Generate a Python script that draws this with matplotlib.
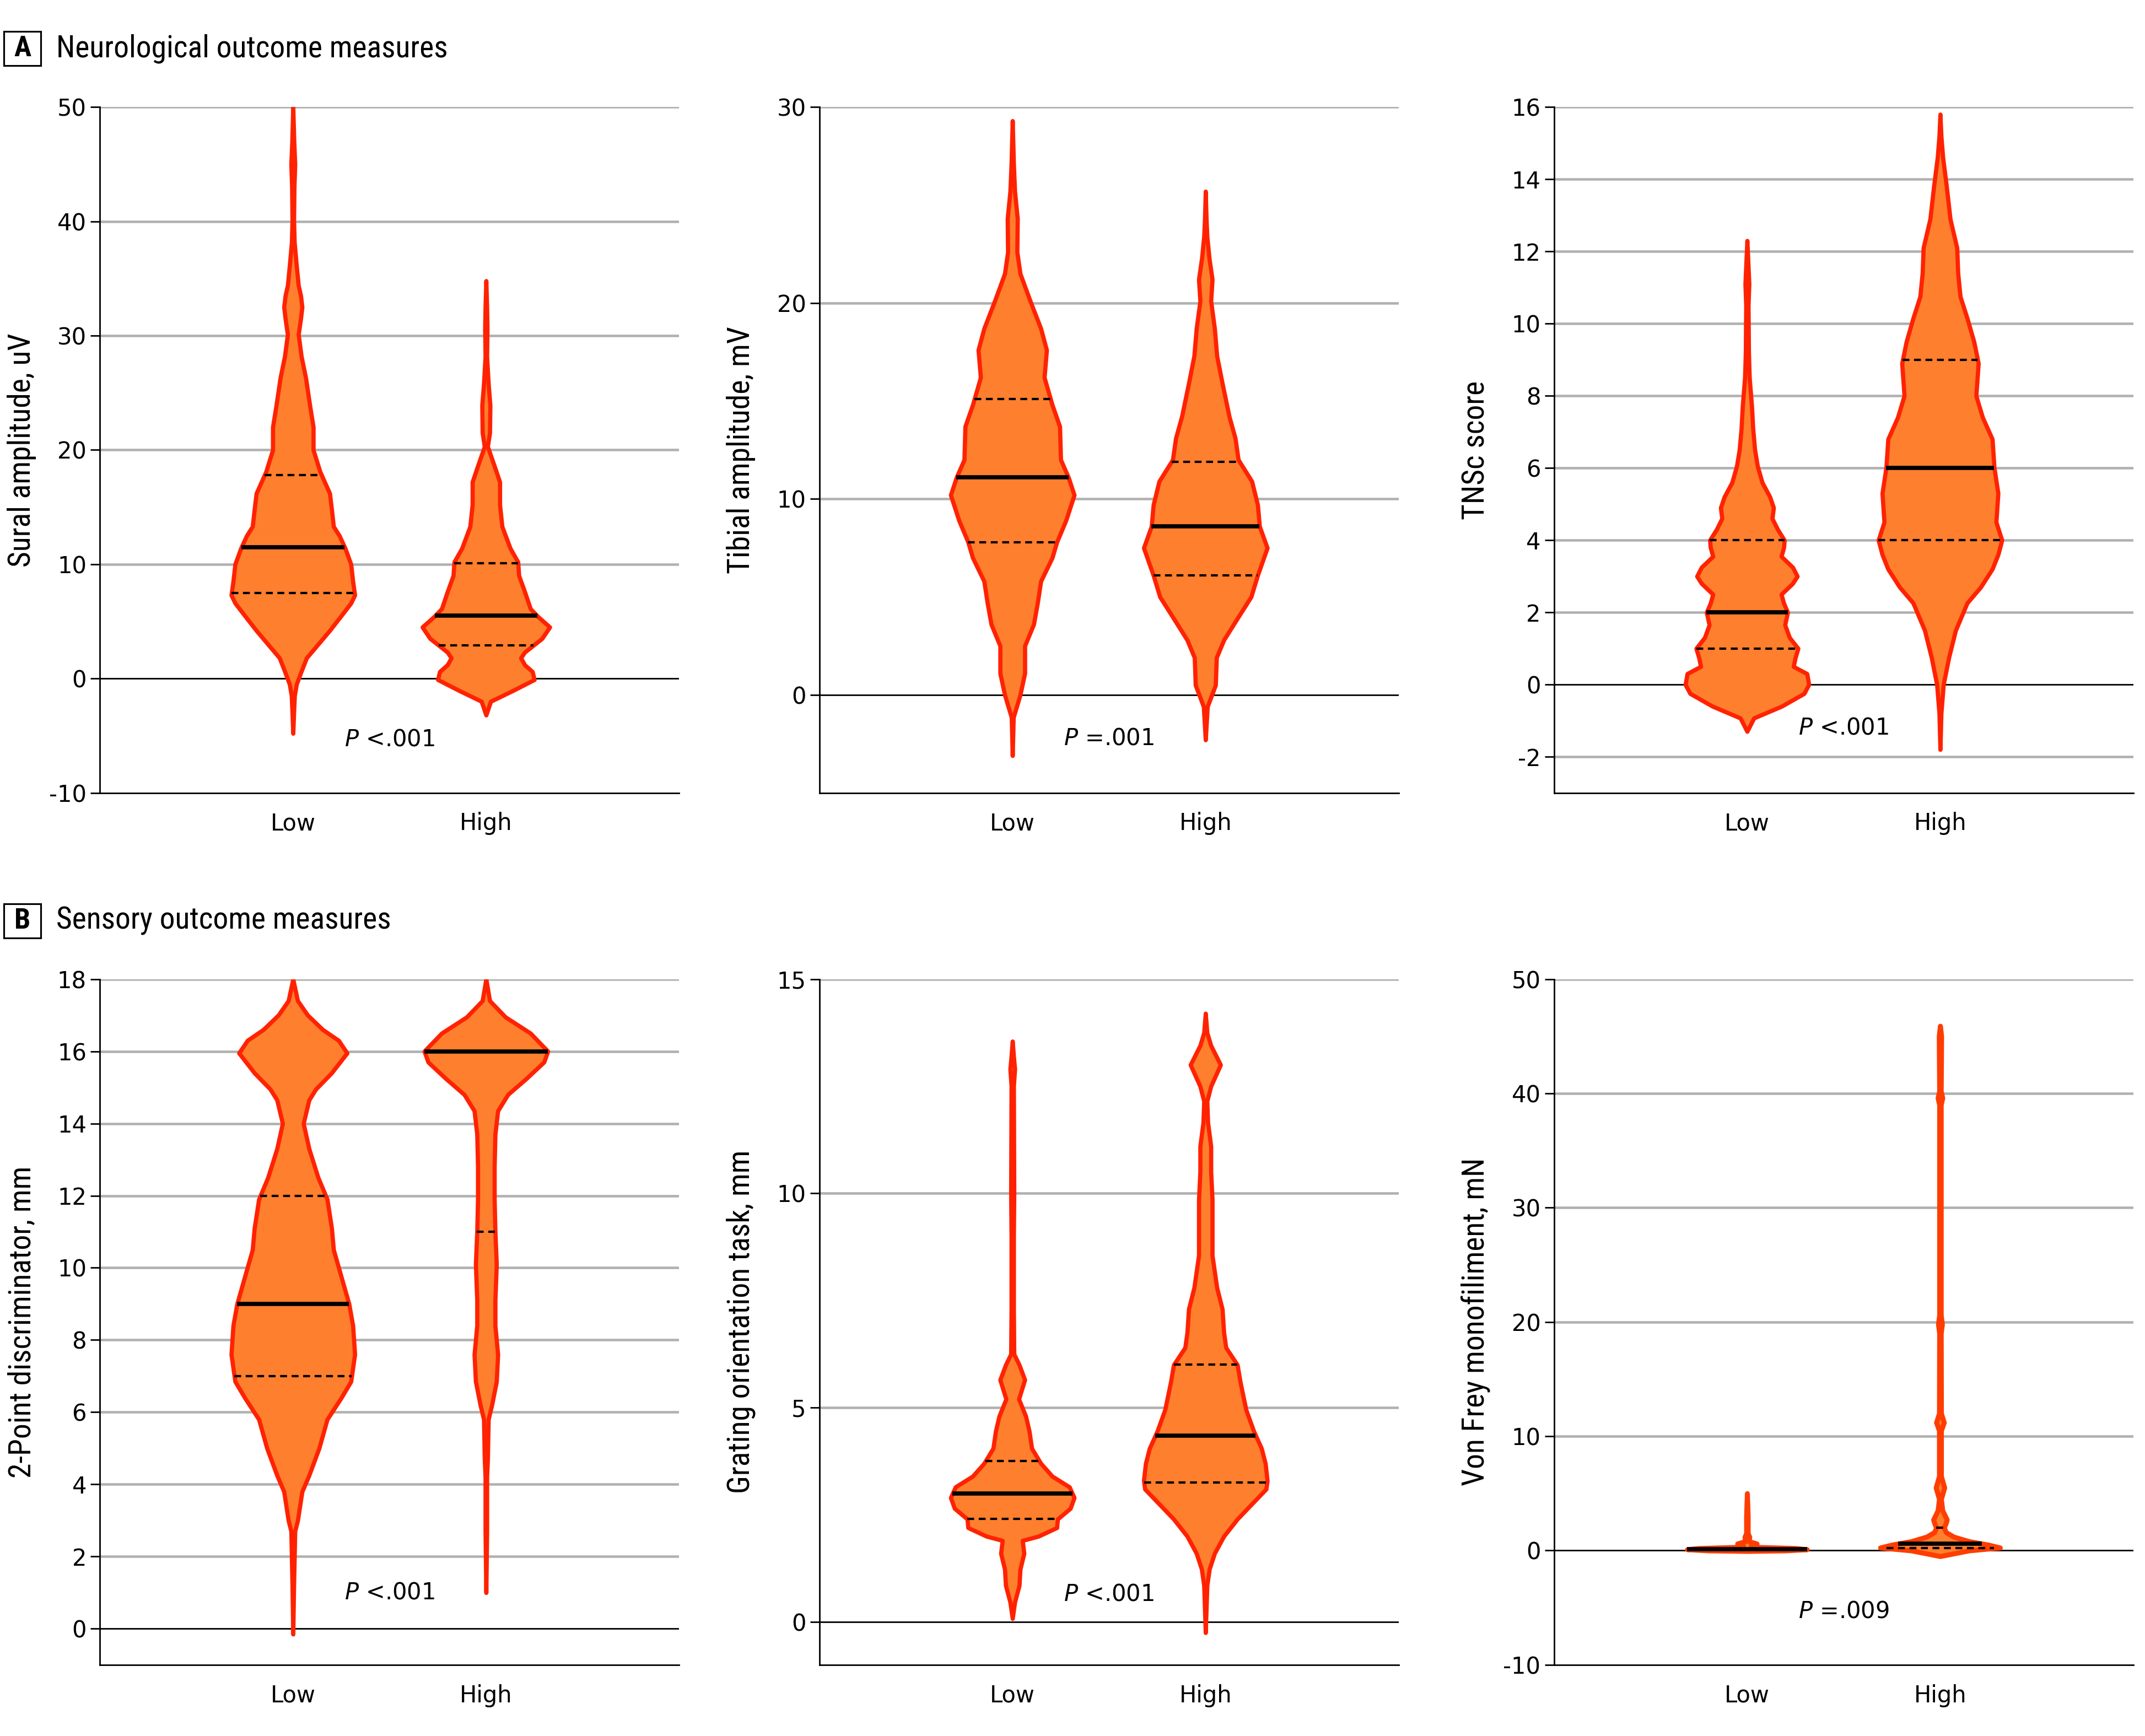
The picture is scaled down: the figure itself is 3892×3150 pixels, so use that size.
import numpy as np
import matplotlib.pyplot as plt
from matplotlib.patches import Rectangle

plt.rcParams['font.family'] = ['DejaVu Sans']
plt.rcParams['axes.unicode_minus'] = False
narrow = ['Roboto Condensed', 'DejaVu Sans']

groups = ["Low", "High"]

# ---- violin outlines: y value -> half width (x units) ----
sural_low_y = [-4.8, -3, -1.5, -0.5, 0.5, 1.8, 3.0, 4.2, 5.5, 6.6, 7.3, 8.5, 10, 11.4, 12.5, 13.3, 14.8,
               16.2, 18.1, 20, 22, 23.9, 26.3, 28.2, 30.1, 31.5, 32.5, 33.5, 34.4, 36.3, 38.2, 40.1, 43, 45, 47, 50]
sural_low_w = [0, 0.004, 0.008, 0.018, 0.04, 0.07, 0.13, 0.19, 0.25, 0.30, 0.32, 0.31, 0.30, 0.27, 0.24, 0.21, 0.20,
               0.19, 0.14, 0.105, 0.105, 0.087, 0.066, 0.043, 0.028, 0.04, 0.047, 0.04, 0.028, 0.017, 0.007, 0.004, 0.006, 0.01, 0.005, 0]
sural_high_y = [-3.2, -2.0, -1.05, -0.1, 0.6, 1.2, 1.8, 2.3, 3.5, 4.5, 5.4, 6.1, 7.6, 9.0, 10.2, 11.4, 13.3,
                15.2, 17.2, 18.6, 20.3, 21.5, 23.9, 25.8, 28.2, 30.6, 32.5, 34.8]
sural_high_w = [0, 0.024, 0.14, 0.25, 0.24, 0.2, 0.18, 0.2, 0.29, 0.33, 0.27, 0.23, 0.2, 0.17, 0.165, 0.125, 0.083,
                0.071, 0.071, 0.043, 0.008, 0.019, 0.021, 0.012, 0.004, 0.006, 0.004, 0]

tibial_low_y = [-3.1, -1.15, 0, 1.1, 2.5, 3.6, 4.7, 5.8, 7.0, 7.8, 8.9, 10.2, 11.1, 12.0, 13.7, 14.8, 16.2,
                17.6, 18.7, 20.1, 21.5, 22.6, 24.3, 25.7, 27.1, 29.3]
tibial_low_w = [0, 0.005, 0.04, 0.064, 0.064, 0.11, 0.13, 0.147, 0.206, 0.23, 0.277, 0.32, 0.29, 0.25, 0.245, 0.206, 0.165,
                0.177, 0.147, 0.092, 0.04, 0.024, 0.026, 0.012, 0.006, 0]
tibial_high_y = [-2.3, -0.6, 0.5, 1.9, 2.8, 3.9, 5.0, 6.1, 7.5, 8.6, 9.7, 10.9, 12.0, 13.1, 14.2, 15.9,
                 17.3, 18.7, 20.1, 21.2, 22.3, 23.4, 24.3, 25.7]
tibial_high_w = [0, 0.01, 0.052, 0.057, 0.095, 0.165, 0.236, 0.27, 0.32, 0.28, 0.27, 0.24, 0.17, 0.154, 0.123, 0.087,
                 0.059, 0.047, 0.028, 0.035, 0.019, 0.008, 0.004, 0]

tnsc_low_y = [-1.3, -0.93, -0.6, -0.25, 0, 0.3, 0.5, 0.75, 1.0, 1.3, 1.65, 2.0, 2.25, 2.5, 2.8, 3.0, 3.25,
              3.55, 3.8, 4.0, 4.3, 4.6, 4.9, 5.2, 5.6, 6.05, 6.5, 7.1, 7.7, 8.5, 9.2, 10.5, 11.1, 11.7, 12.3]
tnsc_low_w = [0, 0.035, 0.18, 0.295, 0.32, 0.31, 0.24, 0.25, 0.264, 0.22, 0.196, 0.21, 0.19, 0.177, 0.236, 0.26, 0.236,
              0.177, 0.19, 0.193, 0.158, 0.13, 0.137, 0.118, 0.078, 0.054, 0.04, 0.03, 0.024, 0.012, 0.008, 0.006, 0.01, 0.005, 0]
tnsc_high_y = [-1.8, -0.8, 0, 0.75, 1.5, 2.26, 2.7, 3.2, 3.6, 4.0, 4.5, 5.3, 6.0, 6.8, 7.4, 8.0, 8.9,
               9.5, 10.15, 10.75, 11.4, 12.1, 12.9, 13.8, 14.6, 15.2, 15.8]
tnsc_high_w = [0, 0.005, 0.017, 0.045, 0.08, 0.14, 0.21, 0.27, 0.3, 0.32, 0.29, 0.30, 0.28, 0.27, 0.22, 0.186, 0.198,
               0.175, 0.14, 0.104, 0.092, 0.087, 0.052, 0.033, 0.014, 0.005, 0]

tpd_low_y = [-0.15, 1.2, 2.7, 3.0, 3.8, 4.25, 5.0, 5.8, 6.4, 6.85, 7.6, 8.4, 9.0, 9.75, 10.5, 11.1, 11.9,
             12.5, 13.3, 14.0, 14.65, 14.95, 15.4, 15.95, 16.3, 16.6, 17.0, 17.4, 18.0]
tpd_low_w = [0, 0.004, 0.01, 0.024, 0.047, 0.083, 0.135, 0.177, 0.25, 0.30, 0.32, 0.31, 0.29, 0.25, 0.21, 0.2, 0.177,
             0.13, 0.083, 0.054, 0.083, 0.118, 0.2, 0.28, 0.236, 0.154, 0.076, 0.024, 0]
tpd_high_y = [1.0, 2.7, 4.2, 4.7, 5.8, 6.2, 6.85, 7.6, 8.4, 9.1, 10.1, 11.0, 11.9, 12.8, 13.7, 14.35,
              14.8, 15.25, 15.7, 16.0, 16.5, 16.95, 17.4, 18.0]
tpd_high_w = [0, 0.004, 0.004, 0.008, 0.012, 0.03, 0.054, 0.061, 0.047, 0.047, 0.054, 0.047, 0.043, 0.043, 0.047, 0.061,
              0.113, 0.21, 0.30, 0.32, 0.23, 0.1, 0.019, 0]

got_low_y = [0.08, 0.46, 0.85, 1.23, 1.6, 1.9, 2.0, 2.2, 2.4, 2.65, 2.9, 3.15, 3.4, 3.7, 4.05, 4.45, 4.8,
             5.2, 5.65, 6.0, 6.25, 7.3, 9.0, 10.0, 12.5, 12.9, 13.2, 13.55]
got_low_w = [0, 0.012, 0.035, 0.04, 0.06, 0.052, 0.135, 0.23, 0.234, 0.30, 0.32, 0.295, 0.206, 0.147, 0.1, 0.087, 0.069,
             0.033, 0.064, 0.035, 0.008, 0.006, 0.006, 0.008, 0.006, 0.012, 0.006, 0]
got_high_y = [-0.25, 0.85, 1.23, 1.6, 2.0, 2.4, 2.8, 3.1, 3.3, 3.7, 4.05, 4.45, 4.95, 5.6, 6.0, 6.4, 6.75,
              7.3, 7.8, 8.55, 9.2, 9.85, 10.5, 11.1, 11.65, 12.15, 12.5, 13.0, 13.45, 13.75, 14.2]
got_high_w = [0, 0.008, 0.02, 0.047, 0.095, 0.165, 0.25, 0.314, 0.32, 0.31, 0.29, 0.25, 0.21, 0.18, 0.165, 0.106, 0.095,
              0.087, 0.059, 0.035, 0.035, 0.035, 0.028, 0.028, 0.012, 0.008, 0.028, 0.078, 0.028, 0.008, 0]

vf_low_y = [-0.05, 0.0, 0.1, 0.2, 0.3, 0.4, 0.6, 0.8, 1.2, 1.5, 3.0, 5.0]
vf_low_w = [0, 0.2, 0.31, 0.25, 0.05, 0.02, 0.05, 0.01, 0.012, 0.004, 0.004, 0]
vf_high_y = [-0.5, 0.0, 0.25, 0.5, 0.8, 1.2, 1.6, 2.0, 2.4, 2.7, 3.5, 4.5, 5.5, 6.5, 10.5, 11.2, 12.0,
             19.0, 19.8, 20.6, 39.0, 39.6, 40.2, 45.0, 45.9]
vf_high_w = [0, 0.15, 0.31, 0.25, 0.15, 0.07, 0.03, 0.02, 0.03, 0.035, 0.012, 0.005, 0.022, 0.005, 0.005, 0.02, 0.005,
             0.004, 0.01, 0.004, 0.004, 0.012, 0.004, 0.006, 0]

# median, lower quartile, upper quartile for Low and High
sural_stats = [(11.5, 7.5, 17.8), (5.5, 2.9, 10.1)]
tibial_stats = [(11.1, 7.8, 15.1), (8.6, 6.1, 11.9)]
tnsc_stats = [(2.0, 1.0, 4.0), (6.0, 4.0, 9.0)]
tpd_stats = [(9.0, 7.0, 12.0), (16.0, 11.0, 16.0)]
got_stats = [(3.0, 2.4, 3.75), (4.35, 3.25, 6.0)]
vf_stats = [(0.1, 0.05, 0.15), (0.6, 0.2, 2.0)]

p_values = ["<.001", "=.001", "<.001", "<.001", "<.001", "=.009"]
p_y = [-5.3, -2.2, -1.2, 1.0, 0.65, -5.3]

panels = [
    dict(label="Sural amplitude, uV", ylim=(-10, 50), ticks=np.arange(-10, 51, 10),
         prof=[(sural_low_y, sural_low_w), (sural_high_y, sural_high_w)], stats=sural_stats),
    dict(label="Tibial amplitude, mV", ylim=(-5, 30), ticks=np.arange(0, 31, 10),
         prof=[(tibial_low_y, tibial_low_w), (tibial_high_y, tibial_high_w)], stats=tibial_stats),
    dict(label="TNSc score", ylim=(-3, 16), ticks=np.arange(-2, 17, 2),
         prof=[(tnsc_low_y, tnsc_low_w), (tnsc_high_y, tnsc_high_w)], stats=tnsc_stats),
    dict(label="2-Point discriminator, mm", ylim=(-1, 18), ticks=np.arange(0, 19, 2),
         prof=[(tpd_low_y, tpd_low_w), (tpd_high_y, tpd_high_w)], stats=tpd_stats),
    dict(label="Grating orientation task, mm", ylim=(-1, 15), ticks=np.arange(0, 16, 5),
         prof=[(got_low_y, got_low_w), (got_high_y, got_high_w)], stats=got_stats),
    dict(label="Von Frey monofiliment, mN", ylim=(-10, 50), ticks=np.arange(-10, 51, 10),
         prof=[(vf_low_y, vf_low_w), (vf_high_y, vf_high_w)], stats=vf_stats),
]

fill_col = '#FE7F2E'
edge_col = '#FF2200'

fig = plt.figure(figsize=(15.568, 12.6), dpi=250)
lefts = [0.0466, 0.382, 0.7245]
bottoms = [0.5433, 0.041]
w_ax, h_ax = 0.2700, 0.3950

for i, p in enumerate(panels):
    ax = fig.add_axes([lefts[i % 3], bottoms[i // 3], w_ax, h_ax])
    ax.set_xlim(0, 3)
    ax.set_ylim(*p['ylim'])
    ax.set_yticks(p['ticks'])
    ax.set_xticks([1, 2])
    ax.set_xticklabels(groups, fontsize=12)
    ax.tick_params(axis='x', length=0, pad=10)
    ax.tick_params(axis='y', labelsize=12, length=5, width=0.8, pad=2)
    for s in ['top', 'right']:
        ax.spines[s].set_visible(False)
    ax.spines['left'].set_linewidth(0.8)
    ax.spines['bottom'].set_linewidth(0.8)
    for t in p['ticks']:
        if t == p['ylim'][0]:
            continue
        if t == 0:
            ax.axhline(0, color='black', lw=0.8, zorder=1)
        else:
            ax.axhline(t, color='#B0B0B0', lw=1.3, zorder=0)
    ec = '#FF3D00' if i == 5 else edge_col
    lw_edge = 2.6 if i == 5 else 2.2
    for k, ((ys, ws), (med, q1, q3)) in enumerate(zip(p['prof'], p['stats'])):
        x0 = k + 1
        ys = np.array(ys)
        ws = np.array(ws)
        ax.fill_betweenx(ys, x0 - ws, x0 + ws, facecolor=fill_col, edgecolor=ec,
                         lw=lw_edge, joinstyle='round', zorder=2)
        for val, ls, lw in [(q1, (0, (3, 2)), 1.2), (q3, (0, (3, 2)), 1.2), (med, '-', 2.2)]:
            hw = np.interp(val, ys, ws)
            ax.plot([x0 - hw, x0 + hw], [val, val], color='black', ls=ls, lw=lw, zorder=3,
                    solid_capstyle='butt')
    ax.text(1.5, p_y[i], '$P$ ' + p_values[i], ha='center', va='center', fontsize=12)
    ax.set_ylabel(p['label'], fontsize=16, family=narrow)
    ax.yaxis.set_label_coords(-0.11, 0.5)

for y0, letter, title in [(0.9622, 'A', 'Neurological outcome measures'),
                          (0.4598, 'B', 'Sensory outcome measures')]:
    fig.patches.append(Rectangle((0.0019, y0), 0.0172, 0.0197, transform=fig.transFigure,
                                 fc='white', ec='black', lw=0.9))
    fig.text(0.0105, y0 + 0.0098, letter, ha='center', va='center', fontsize=15, fontweight='bold',
             family=narrow)
    fig.text(0.0261, y0 + 0.0098, title, ha='left', va='center', fontsize=16, family=narrow)

fig.savefig('out.png', dpi=250)
